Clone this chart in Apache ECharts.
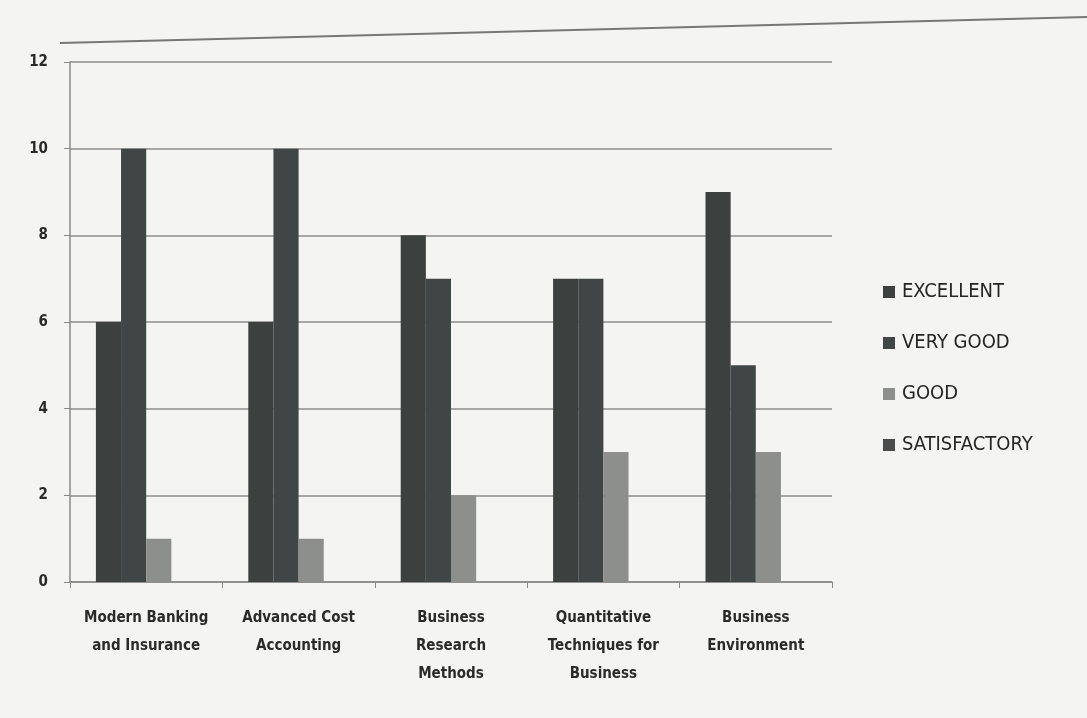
<!DOCTYPE html>
<html>
<head>
<meta charset="utf-8">
<script src="https://cdn.jsdelivr.net/npm/echarts@6/dist/echarts.min.js"></script>
<style>
html,body{margin:0;padding:0;background:#f4f4f2;}
#c{width:1087px;height:718px;}
</style>
</head>
<body>
<div id="c"></div>
<script>
const categories = ["Modern Banking\nand Insurance", "Advanced Cost\nAccounting", "Business\nResearch\nMethods", "Quantitative\nTechniques for\nBusiness", "Business\nEnvironment"];
const excellent = [6, 6, 8, 7, 9];
const veryGood = [10, 10, 7, 7, 5];
const good = [1, 1, 2, 3, 3];
const satisfactory = [0, 0, 0, 0, 0];
const seriesNames = ["EXCELLENT", "VERY GOOD", "GOOD", "SATISFACTORY"];
const seriesColors = ["#3c413f", "#404545", "#8d8f8d", "#4a4c4b"];

const chart = echarts.init(document.getElementById('c'));
const font = "'DejaVu Sans Condensed', 'Open Sans', sans-serif";
const values = [excellent, veryGood, good, satisfactory];
chart.setOption({
  backgroundColor: '#f4f4f2',
  animation: false,
  graphic: [{
    type: 'line', shape: {x1: 60, y1: 43, x2: 1087, y2: 17},
    style: {stroke: '#777', lineWidth: 2}
  }],
  grid: {left: 70, right: 255, top: 62, bottom: 136},
  legend: {
    orient: 'vertical', left: 878, top: 277, itemGap: 31,
    itemWidth: 12, itemHeight: 12, icon: 'rect',
    textStyle: {fontFamily: font, fontSize: 20, color: '#252525', padding: [0, 0, 0, 2]},
    data: seriesNames
  },
  xAxis: {
    type: 'category', data: categories,
    axisLine: {lineStyle: {color: '#8a8a8a', width: 1.5}},
    axisTick: {show: true, length: 6, lineStyle: {color: '#8a8a8a'}},
    axisLabel: {fontFamily: font, fontSize: 15, fontWeight: 'bold', color: '#2a2a2a', lineHeight: 28, margin: 22, interval: 0}
  },
  yAxis: {
    type: 'value', min: 0, max: 12, interval: 2,
    axisLine: {show: true, lineStyle: {color: '#8a8a8a', width: 1.5}},
    axisTick: {show: true, length: 6, lineStyle: {color: '#8a8a8a'}},
    splitLine: {lineStyle: {color: '#8e8e8e', width: 1.5}},
    axisLabel: {fontFamily: font, fontSize: 15, fontWeight: 'bold', color: '#2a2a2a', margin: 22}
  },
  series: seriesNames.map((n, i) => ({
    name: n, type: 'bar', data: values[i],
    barGap: '0%', barCategoryGap: '34%',
    itemStyle: {color: seriesColors[i]}
  }))
});
</script>
</body>
</html>
